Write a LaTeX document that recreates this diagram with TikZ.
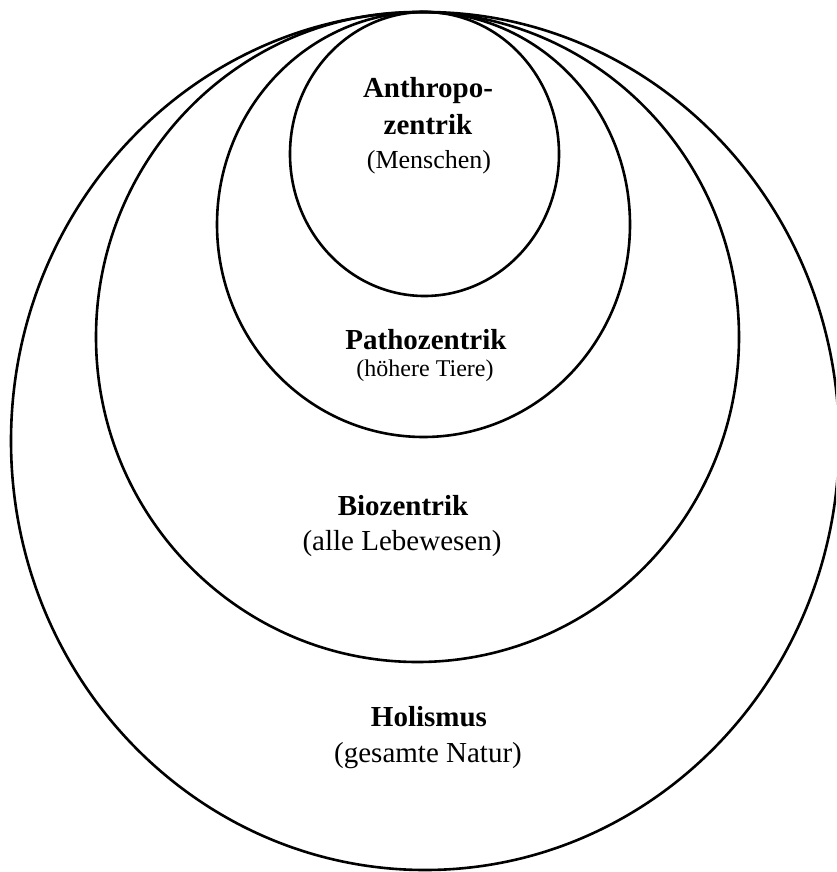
\documentclass[tikz,border=0pt]{standalone}
\usepackage{fontspec}
\setmainfont{Liberation Serif}
\usetikzlibrary{shapes.geometric}

\begin{document}
\begin{tikzpicture}[x=1pt,y=-1pt]
\tikzset{ring/.style={draw,ellipse,line width=2.6pt,inner sep=0pt,outer sep=0pt}}
\tikzset{head/.style={anchor=base,inner sep=0pt,font=\fontsize{29}{34}\selectfont\bfseries}}
\tikzset{sub/.style={anchor=base,inner sep=0pt,font=\fontsize{29}{34}\selectfont}}

\clip (0,0) rectangle (836,872);

\node[ring,minimum width=828pt,minimum height=858pt] (holismus) at (425,441) {};
\node[ring,minimum width=643pt,minimum height=650pt] (biozentrik) at (417.5,337) {};
\node[ring,minimum width=413pt,minimum height=425pt] (pathozentrik) at (423.5,224.5) {};
\node[ring,minimum width=269pt,minimum height=284pt] (anthropozentrik) at (424.5,154) {};

\node[head] (anthro) at (428,98) {Anthropo-};
\node[head] (zentrik) at (428,135) {zentrik};
\node[sub,font=\fontsize{26}{30}\selectfont] (menschen) at (429,168) {(Menschen)};
\node[head] (patho) at (426,349) {Pathozentrik};
\node[sub,font=\fontsize{24}{28}\selectfont] (tiere) at (425,376) {(höhere Tiere)};
\node[head] (bio) at (403,515) {Biozentrik};
\node[sub] (lebewesen) at (402,550) {(alle Lebewesen)};
\node[head] (holi) at (429,726) {Holismus};
\node[sub] (natur) at (428,762) {(gesamte Natur)};

\end{tikzpicture}
\end{document}
